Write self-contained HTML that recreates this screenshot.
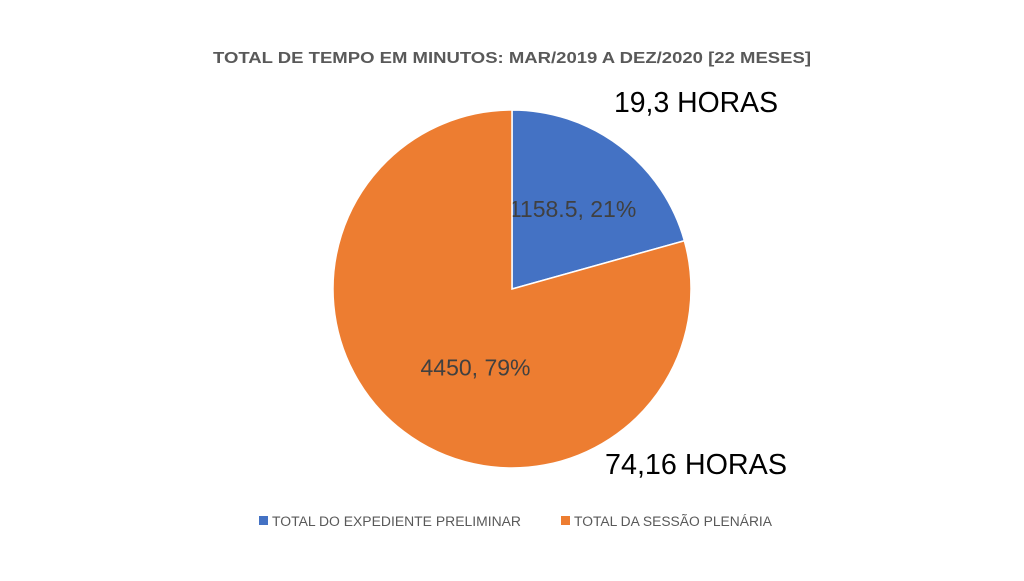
<!DOCTYPE html>
<html><head><meta charset="utf-8"><style>
body{margin:0;background:#fff;}
svg text{font-family:"Liberation Sans",sans-serif;}
</style></head><body>
<svg width="1024" height="576" viewBox="0 0 1024 576">
<text x="512" y="63" text-anchor="middle" font-size="16" font-weight="bold" fill="#595959" textLength="598" lengthAdjust="spacingAndGlyphs">TOTAL DE TEMPO EM MINUTOS: MAR/2019 A DEZ/2020 [22 MESES]</text>
<g id="slices"></g>
<text x="696" y="112" text-anchor="middle" font-size="29" fill="#000" textLength="164" lengthAdjust="spacingAndGlyphs">19,3 HORAS</text>
<text x="696" y="474" text-anchor="middle" font-size="29" fill="#000" textLength="182" lengthAdjust="spacingAndGlyphs">74,16 HORAS</text>
<g>
<rect x="259" y="516" width="9" height="9" fill="#4472c4"/>
<text x="272" y="526" font-size="13.5" fill="#595959" textLength="249" lengthAdjust="spacingAndGlyphs">TOTAL DO EXPEDIENTE PRELIMINAR</text>
<rect x="561" y="516" width="9" height="9" fill="#ed7d31"/>
<text x="574" y="526" font-size="13.5" fill="#595959" textLength="198" lengthAdjust="spacingAndGlyphs">TOTAL DA SESSÃO PLENÁRIA</text>
</g>
</svg>
<script>
const categories=["TOTAL DO EXPEDIENTE PRELIMINAR","TOTAL DA SESSÃO PLENÁRIA"];
const values=[1158.5,4450];
const valueLabels=["1158.5","4450"];
const colors=["#4472c4","#ed7d31"];
const names=["slice-preliminar","slice-plenaria"];
const cx=512,cy=289,r=179;
const ns="http://www.w3.org/2000/svg";
const g=document.getElementById("slices");
const total=values.reduce((a,b)=>a+b,0);
function pt(a,rr){return [cx+rr*Math.sin(a),cy-rr*Math.cos(a)];}
let start=0;
values.forEach((v,i)=>{
  const frac=v/total,end=start+frac*2*Math.PI;
  const p0=pt(start,r),p1=pt(end,r);
  const large=frac>0.5?1:0;
  const path=document.createElementNS(ns,"path");
  path.setAttribute("d",`M${cx},${cy}L${p0[0]},${p0[1]}A${r},${r} 0 ${large} 1 ${p1[0]},${p1[1]}Z`);
  path.setAttribute("fill",colors[i]);
  path.setAttribute("stroke","#fff");
  path.setAttribute("stroke-width","1.5");
  
  
  g.appendChild(path);
  const mid=(start+end)/2;
  const lp=pt(mid,frac>0.5?r*0.55:r*0.56);
  const t=document.createElementNS(ns,"text");
  t.setAttribute("x",lp[0]+(frac>0.5?23:0));t.setAttribute("y",lp[1]+8);
  t.setAttribute("text-anchor","middle");t.setAttribute("font-size","23");t.setAttribute("fill","#404040");
  t.textContent=valueLabels[i]+", "+Math.round(frac*100)+"%";
  
  
  g.appendChild(t);
  start=end;
});
</script>
</body></html>
